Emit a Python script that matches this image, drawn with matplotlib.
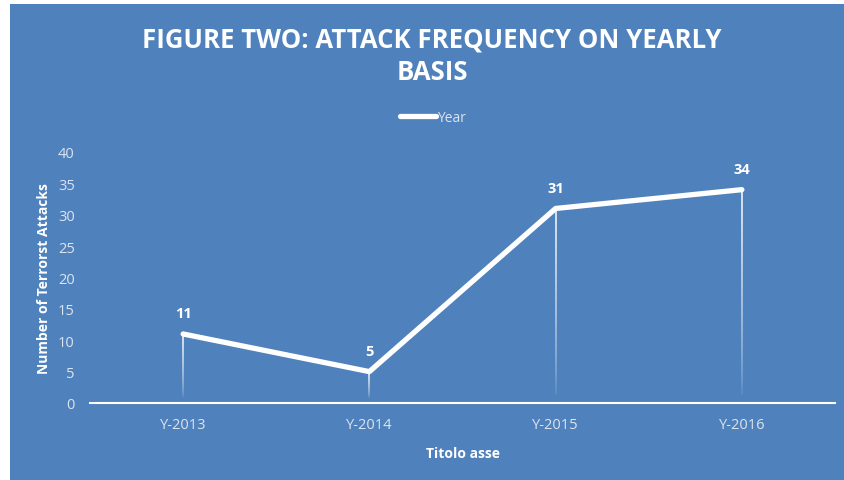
import numpy as np
import matplotlib
matplotlib.use("Agg")
import matplotlib.pyplot as plt
from matplotlib.collections import LineCollection
from matplotlib.patches import Rectangle

years = ["Y-2013", "Y-2014", "Y-2015", "Y-2016"]
attacks = [11, 5, 31, 34]
yticks = [0, 5, 10, 15, 20, 25, 30, 35, 40]

BLUE = "#4F81BD"
TICK = "#DCE4EE"

plt.rcParams["font.family"] = ["Open Sans", "DejaVu Sans"]

fig = plt.figure(figsize=(8.44, 4.81), dpi=100, facecolor="white")
# blue chart area (white margin left/top like the source screenshot)
fig.patches.append(Rectangle((10 / 844, 0), 1, 1 - 5 / 481, transform=fig.transFigure,
                             facecolor=BLUE, edgecolor="none", zorder=-5))

ax = fig.add_axes([90 / 844, 77 / 481, 745 / 844, 251 / 481])
ax.set_facecolor("none")
ax.set_zorder(2)
x = np.arange(len(years))

# fading drop lines
for xi, yi in zip(x, attacks):
    n = 60
    ys = np.linspace(yi, 0.8, n + 1)
    segs = [[(xi, ys[i]), (xi, ys[i + 1])] for i in range(n)]
    alphas = np.linspace(1.0, 0.0, n) ** 0.6
    cols = [(1, 1, 1, a) for a in alphas]
    ax.add_collection(LineCollection(segs, colors=cols, linewidths=1.1, zorder=2))

ax.plot(x, attacks, color="white", lw=3.8, solid_capstyle="round",
        solid_joinstyle="round", zorder=3, label="Year")

for xi, yi in zip(x, attacks):
    ax.annotate(str(yi), (xi, yi), xytext=(0, 10), textcoords="offset points",
                ha="center", va="bottom", color="white", fontsize=10.5,
                fontweight="bold")

ax.set_xlim(-0.5, 3.5)
ax.set_ylim(0, 40)
ax.set_xticks(x)
ax.set_xticklabels(years)
ax.set_yticks(yticks)
ax.tick_params(axis="both", length=0, colors=TICK, labelsize=10.5)
ax.tick_params(axis="x", pad=10)
ax.tick_params(axis="y", pad=11)
for lbl in ax.get_xticklabels():
    lbl.set_fontsize(10.5)

for s in ["top", "right", "left"]:
    ax.spines[s].set_visible(False)
ax.spines["bottom"].set_color("white")
ax.spines["bottom"].set_linewidth(1.5)

ax.set_xlabel("Titolo asse", color="white", fontsize=10, fontweight="bold", labelpad=10)
ax.set_ylabel("Number of Terrorst Attacks", color="white", fontsize=10,
              fontweight="bold", labelpad=5)

fig.text(0.512, 1 - 40 / 481, "FIGURE TWO: ATTACK FREQUENCY ON YEARLY",
         ha="center", va="center", color="white", fontsize=18.5, fontweight="bold")
fig.text(0.512, 1 - 73 / 481, "BASIS", ha="center", va="center", color="white",
         fontsize=18.5, fontweight="bold")

leg = ax.legend(loc="center", bbox_to_anchor=(0.513, (481 - 118) / 481), bbox_transform=fig.transFigure,
                frameon=False, fontsize=10, handlelength=2.6, handletextpad=0.1,
                labelcolor=TICK)

fig.savefig("out.png", dpi=100, facecolor="white")
